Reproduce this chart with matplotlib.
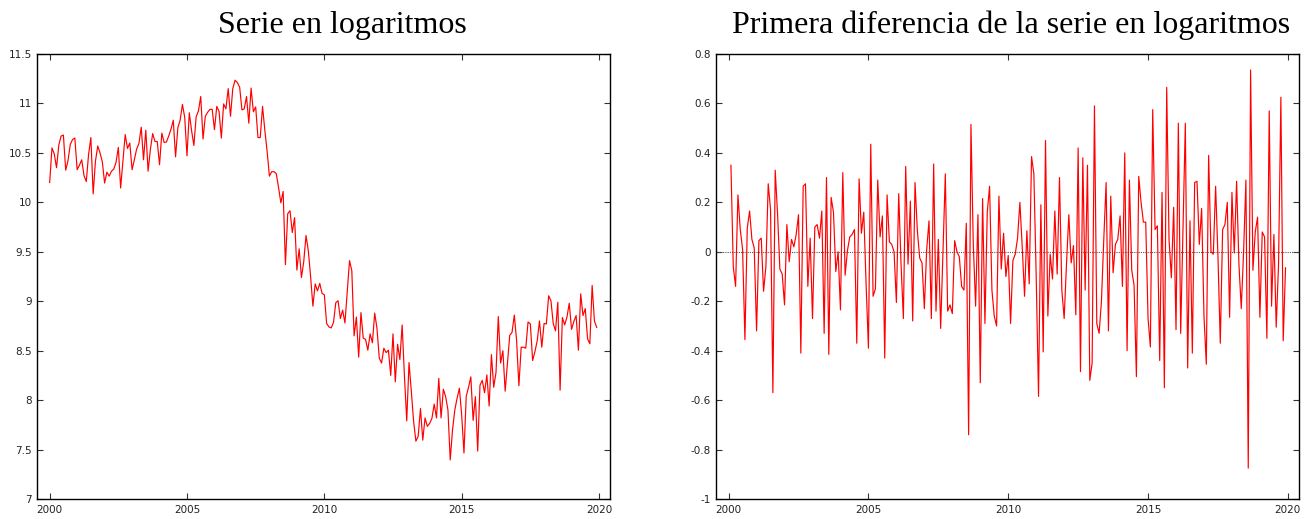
import numpy as np
import matplotlib
matplotlib.use("Agg")
import matplotlib.pyplot as plt
from matplotlib.ticker import FormatStrFormatter

plt.rcParams["axes.unicode_minus"] = False

# serie mensual en logaritmos, 2000:01 - 2019:12
log_level = [
    10.200, 10.550, 10.490, 10.350, 10.580, 10.670, 10.680, 10.325, 10.420, 10.585, 10.635, 10.650,
    10.330, 10.375, 10.430, 10.270, 10.210, 10.485, 10.655, 10.085, 10.415, 10.570, 10.500, 10.410,
    10.195, 10.305, 10.265, 10.315, 10.335, 10.405, 10.555, 10.145, 10.410, 10.685, 10.545, 10.600,
    10.330, 10.430, 10.540, 10.595, 10.760, 10.430, 10.730, 10.315, 10.535, 10.695, 10.615, 10.615,
    10.380, 10.700, 10.605, 10.610, 10.670, 10.740, 10.830, 10.460, 10.755, 10.830, 10.990, 10.860,
    10.470, 10.905, 10.725, 10.575, 10.865, 10.925, 11.070, 10.640, 10.870, 10.910, 10.940, 10.940,
    10.735, 10.970, 10.920, 10.650, 10.995, 10.945, 11.150, 10.870, 11.150, 11.235, 11.210, 11.165,
    10.935, 10.945, 11.070, 10.800, 11.155, 10.915, 10.965, 10.655, 10.655, 10.970, 10.730, 10.515,
    10.265, 10.310, 10.310, 10.290, 10.150, 9.995, 10.110, 9.370, 9.885, 9.915, 9.695, 9.845,
    9.315, 9.530, 9.240, 9.400, 9.665, 9.510, 9.250, 8.950, 9.175, 9.105, 9.180, 9.080,
    9.065, 8.775, 8.740, 8.730, 8.785, 8.985, 9.005, 8.825, 8.910, 8.780, 9.095, 9.410,
    9.310, 8.650, 8.840, 8.435, 8.885, 8.625, 8.615, 8.505, 8.670, 8.580, 8.880, 8.725,
    8.425, 8.375, 8.525, 8.480, 8.505, 8.250, 8.670, 8.185, 8.565, 8.410, 8.760, 8.240,
    7.790, 8.380, 8.090, 7.785, 7.585, 7.635, 7.915, 7.595, 7.820, 7.735, 7.765, 7.815,
    7.960, 7.820, 8.220, 7.820, 8.110, 8.035, 7.900, 7.395, 7.700, 7.900, 8.020, 8.120,
    7.850, 7.465, 8.040, 8.130, 8.235, 7.795, 8.035, 7.485, 8.150, 8.200, 8.075, 8.255,
    7.940, 8.460, 8.130, 8.280, 8.845, 8.375, 8.500, 8.090, 8.370, 8.655, 8.685, 8.860,
    8.600, 8.145, 8.535, 8.535, 8.525, 8.790, 8.770, 8.400, 8.490, 8.600, 8.800, 8.535,
    8.775, 8.770, 9.055, 9.005, 8.775, 8.700, 8.990, 8.100, 8.835, 8.760, 8.840, 8.980,
    8.715, 8.795, 8.855, 8.505, 9.075, 8.855, 8.925, 8.620, 8.570, 9.160, 8.800, 8.735,
]

# primera diferencia, 2000:02 - 2019:12
diff_level = [
    0.35, -0.06, -0.14, 0.23, 0.09, 0.01, -0.355, 0.095, 0.165, 0.05, 0.015, -0.32,
    0.045, 0.055, -0.16, -0.06, 0.275, 0.17, -0.57, 0.33, 0.155, -0.07, -0.09, -0.215,
    0.11, -0.04, 0.05, 0.02, 0.07, 0.15, -0.41, 0.265, 0.275, -0.14, 0.055, -0.27,
    0.10, 0.11, 0.055, 0.165, -0.33, 0.30, -0.415, 0.22, 0.16, -0.08, 0.0, -0.235,
    0.32, -0.095, 0.005, 0.06, 0.07, 0.09, -0.37, 0.295, 0.075, 0.16, -0.13, -0.39,
    0.435, -0.18, -0.15, 0.29, 0.06, 0.145, -0.43, 0.23, 0.04, 0.03, 0.0, -0.205,
    0.235, -0.05, -0.27, 0.345, -0.05, 0.205, -0.28, 0.28, 0.085, -0.025, -0.045, -0.23,
    0.01, 0.125, -0.27, 0.355, -0.24, 0.05, -0.31, 0.0, 0.315, -0.24, -0.215, -0.25,
    0.045, 0.0, -0.02, -0.14, -0.155, 0.115, -0.74, 0.515, 0.03, -0.22, 0.15, -0.53,
    0.215, -0.29, 0.16, 0.265, -0.155, -0.26, -0.30, 0.225, -0.07, 0.075, -0.10, -0.015,
    -0.29, -0.035, -0.01, 0.055, 0.20, 0.02, -0.18, 0.085, -0.13, 0.385, 0.315, -0.1,
    -0.585, 0.19, -0.405, 0.45, -0.26, -0.01, -0.11, 0.165, -0.09, 0.30, -0.155, -0.27,
    -0.05, 0.15, -0.045, 0.025, -0.255, 0.42, -0.485, 0.38, -0.155, 0.35, -0.52, -0.45,
    0.59, -0.29, -0.33, -0.2, 0.05, 0.28, -0.32, 0.225, -0.085, 0.03, 0.05, 0.145,
    -0.14, 0.40, -0.40, 0.29, -0.075, -0.135, -0.505, 0.305, 0.2, 0.12, 0.12, -0.27,
    -0.385, 0.575, 0.09, 0.105, -0.44, 0.24, -0.55, 0.665, 0.05, -0.105, 0.18, -0.315,
    0.52, -0.33, 0.1, 0.52, -0.47, 0.125, -0.41, 0.28, 0.285, 0.03, 0.175, -0.26,
    -0.455, 0.39, 0.0, -0.01, 0.265, -0.02, -0.37, 0.09, 0.11, 0.2, -0.265, 0.24,
    -0.005, 0.285, -0.05, -0.23, 0.0, 0.29, -0.875, 0.735, -0.075, 0.08, 0.14, -0.265,
    0.08, 0.06, -0.35, 0.57, -0.22, 0.07, -0.305, -0.05, 0.625, -0.36, -0.065,
]

year_ticks = [2000, 2005, 2010, 2015, 2020]
level_ticks = [7, 7.5, 8, 8.5, 9, 9.5, 10, 10.5, 11, 11.5]
diff_ticks = [-1, -0.8, -0.6, -0.4, -0.2, 0, 0.2, 0.4, 0.6, 0.8]

t_level = 2000 + np.arange(len(log_level)) / 12
t_diff = t_level[1:]


def style_axis(ax, yticks):
    ax.set_xlim(1999.55, 2020.4)
    ax.set_xticks(year_ticks)
    ax.set_yticks(yticks)
    ax.set_ylim(yticks[0], yticks[-1])
    ax.yaxis.set_major_formatter(FormatStrFormatter("%g"))
    ax.tick_params(direction="in", top=True, right=True, length=4, width=0.8,
                   color="#333333", labelsize=7.5, labelcolor="#222222", pad=4)
    for s in ax.spines.values():
        s.set_linewidth(1.0)
        s.set_color("black")


fig = plt.figure(figsize=(13.09, 5.19), dpi=100)
ax1 = fig.add_axes([0.0285, 0.0385, 0.4375, 0.8575])
ax2 = fig.add_axes([0.547, 0.0385, 0.4454, 0.8575])

ax1.plot(t_level, log_level, color="#ff0000", lw=0.85)
style_axis(ax1, level_ticks)

ax2.axhline(0, color="#555555", lw=0.8, ls=(0, (1, 1)))
ax2.plot(t_diff, diff_level, color="#ff0000", lw=0.85)
style_axis(ax2, diff_ticks)

fig.text(342.5 / 1309, 1 - 25 / 519, "Serie en logaritmos",
         family="Liberation Serif", fontsize=23, ha="center", va="center")
fig.text(1011.5 / 1309, 1 - 25 / 519, "Primera diferencia de la serie en logaritmos",
         family="Liberation Serif", fontsize=23, ha="center", va="center")

fig.savefig("out.png", dpi=100)
plt.close()
